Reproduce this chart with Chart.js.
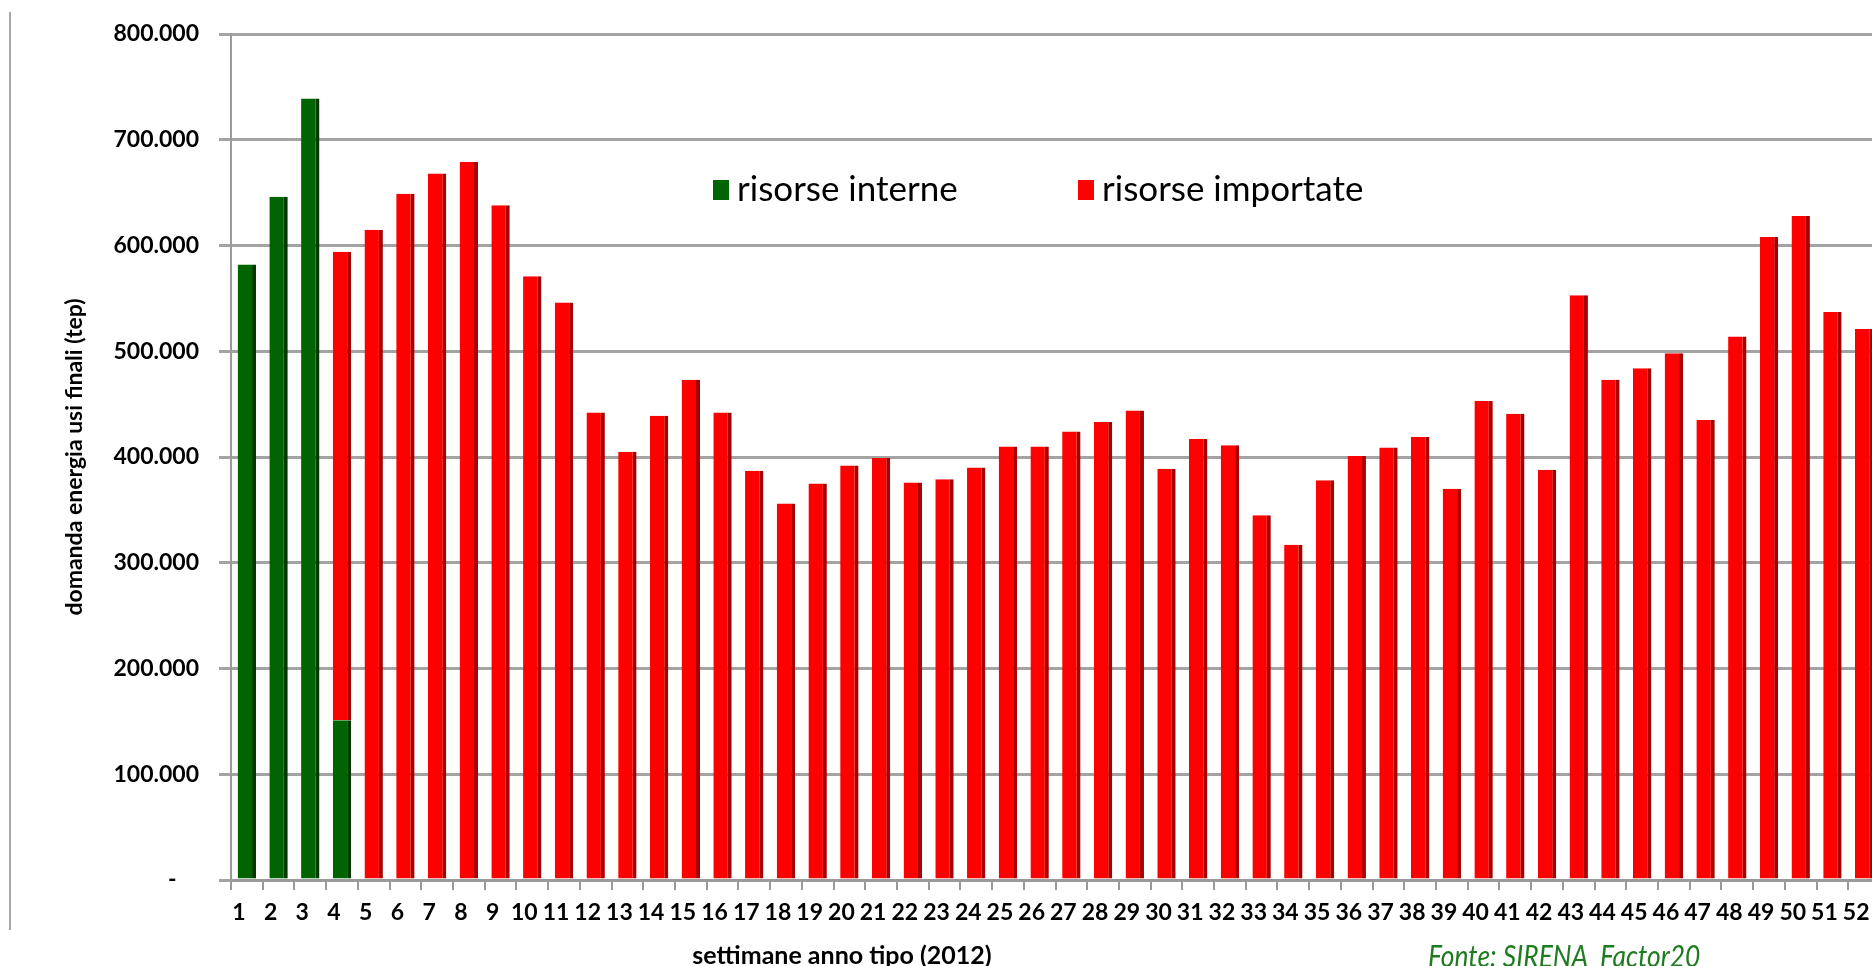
<!DOCTYPE html>
<html lang="it">
<head>
<meta charset="utf-8">
<title>Domanda energia usi finali</title>
<script src="https://cdn.jsdelivr.net/npm/chart.js@4.4.1/dist/chart.umd.min.js"></script>
<style>
  html, body { margin: 0; padding: 0; background: #fff; overflow: hidden; }
  #wrap { position: relative; width: 1872px; height: 966px; overflow: hidden; }
  #bordo { position: absolute; left: 9px; top: 12px; height: 918px; border-left: 2px solid #a8a8a8; }
  #fonte { position: absolute; left: 1428px; top: 940px; font: italic 30px Lato, sans-serif; color: #1e7b1e;
           line-height: 1; white-space: nowrap; transform: scaleX(0.88); transform-origin: left top; }
  canvas { position: absolute; left: 0; top: 0; }
</style>
</head>
<body>
<div id="wrap">
  <div id="bordo"></div>
  <canvas id="grafico" width="1890" height="966"></canvas>
  <div id="fonte">Fonte: SIRENA_Factor20</div>
</div>
<script>
// settimane dell'anno tipo
const settimane = ["1","2","3","4","5","6","7","8","9","10","11","12","13","14","15","16","17","18",
  "19","20","21","22","23","24","25","26","27","28","29","30","31","32","33","34","35","36",
  "37","38","39","40","41","42","43","44","45","46","47","48","49","50","51","52"];

// tep, risorse interne (verde)
const risorseInterne = [582000, 646000, 739000, 151000,
  null, null, null, null, null, null, null, null, null, null, null, null,
  null, null, null, null, null, null, null, null, null, null, null, null,
  null, null, null, null, null, null, null, null, null, null, null, null,
  null, null, null, null, null, null, null, null, null, null, null, null];

// tep, risorse importate (rosso)
const risorseImportate = [null, null, null, 443000,
  615000, 649000, 668000, 679000, 638000, 571000, 546000, 442000, 405000, 439000, 473000, 442000,
  387000, 356000, 375000, 392000, 399000, 376000, 379000, 390000, 410000, 410000, 424000, 433000,
  444000, 389000, 417000, 411000, 345000, 317000, 378000, 401000, 409000, 419000, 370000, 453000,
  441000, 388000, 553000, 473000, 484000, 498000, 435000, 514000, 608000, 628000, 537000, 521000];

const tickY = [0, 100000, 200000, 300000, 400000, 500000, 600000, 700000, 800000];

// formato italiano, zero come trattino
function formatta(v) {
  if (v === 0) return "-    ";
  return String(v).replace(/\B(?=(\d{3})+(?!\d))/g, ".");
}

// legenda e titolo asse x disegnati a mano
const legendaInterna = {
  id: "legendaInterna",
  afterDraw(chart, args, opts) {
    const ctx = chart.ctx;
    ctx.save();
    ctx.font = opts.font;
    ctx.textBaseline = "middle";
    chart.data.datasets.forEach((ds, i) => {
      const x = opts.xs[i];
      ctx.fillStyle = ds.backgroundColor;
      ctx.fillRect(x, opts.y - 10, 16, 20);
      ctx.fillStyle = "#000";
      ctx.fillText(ds.label, x + 24, opts.y);
    });
    ctx.font = opts.titoloFont;
    ctx.textAlign = "center";
    ctx.fillText(opts.titoloX, opts.titoloPos[0], opts.titoloPos[1]);
    ctx.restore();
  }
};

const fontBold = { family: "Lato", weight: "bold" };

const ctx = document.getElementById("grafico").getContext("2d");
const chart = new Chart(ctx, {
  type: "bar",
  data: {
    labels: settimane,
    datasets: [
      {
        label: "risorse interne",
        data: risorseInterne,
        backgroundColor: "#006400",
        borderColor: "#003800",
        borderWidth: { left: 0, top: 0, bottom: 0, right: 4 },
        borderSkipped: false
      },
      {
        label: "risorse importate",
        data: risorseImportate,
        backgroundColor: "#ff0000",
        borderColor: "#a80000",
        borderWidth: { left: 0, top: 0, bottom: 0, right: 4 },
        borderSkipped: false
      }
    ]
  },
  options: {
    responsive: false,
    animation: false,
    layout: { padding: { top: 34, right: 10, bottom: 0, left: 0 } },
    datasets: { bar: { barPercentage: 0.58, categoryPercentage: 1 } },
    plugins: {
      legend: { display: false },
      tooltip: { enabled: false },
      legendaInterna: {
        xs: [713, 1078], y: 190, font: "35px Lato",
        titoloX: "settimane anno tipo (2012)", titoloPos: [842, 956], titoloFont: "bold 25px Lato"
      }
    },
    scales: {
      x: {
        stacked: true,
        grid: { drawOnChartArea: false, offset: true, tickLength: 10, color: "#9a9a9a", lineWidth: 2 },
        border: { color: "#9a9a9a", width: 3 },
        ticks: {
          autoSkip: false, maxRotation: 0, minRotation: 0, labelOffset: -8, padding: 9,
          color: "#000", font: { ...fontBold, size: 23 }
        },
        afterFit: s => { s.height = 86; }
      },
      y: {
        stacked: true,
        min: 0,
        max: 800000,
        afterBuildTicks: s => { s.ticks = tickY.map(v => ({ value: v })); },
        grid: { color: "#a3a3a3", lineWidth: 3, tickLength: 12 },
        border: { color: "#9a9a9a", width: 2 },
        ticks: { callback: formatta, padding: 20, color: "#000", font: { ...fontBold, size: 23 } },
        title: {
          display: true, text: "domanda energia usi finali (tep)", color: "#000",
          font: { ...fontBold, size: 23, lineHeight: 1.2 }, padding: { top: 61, bottom: 0 }
        },
        afterFit: s => { s.width = 231; }
      }
    }
  },
  plugins: [legendaInterna]
});
</script>
</body>
</html>
